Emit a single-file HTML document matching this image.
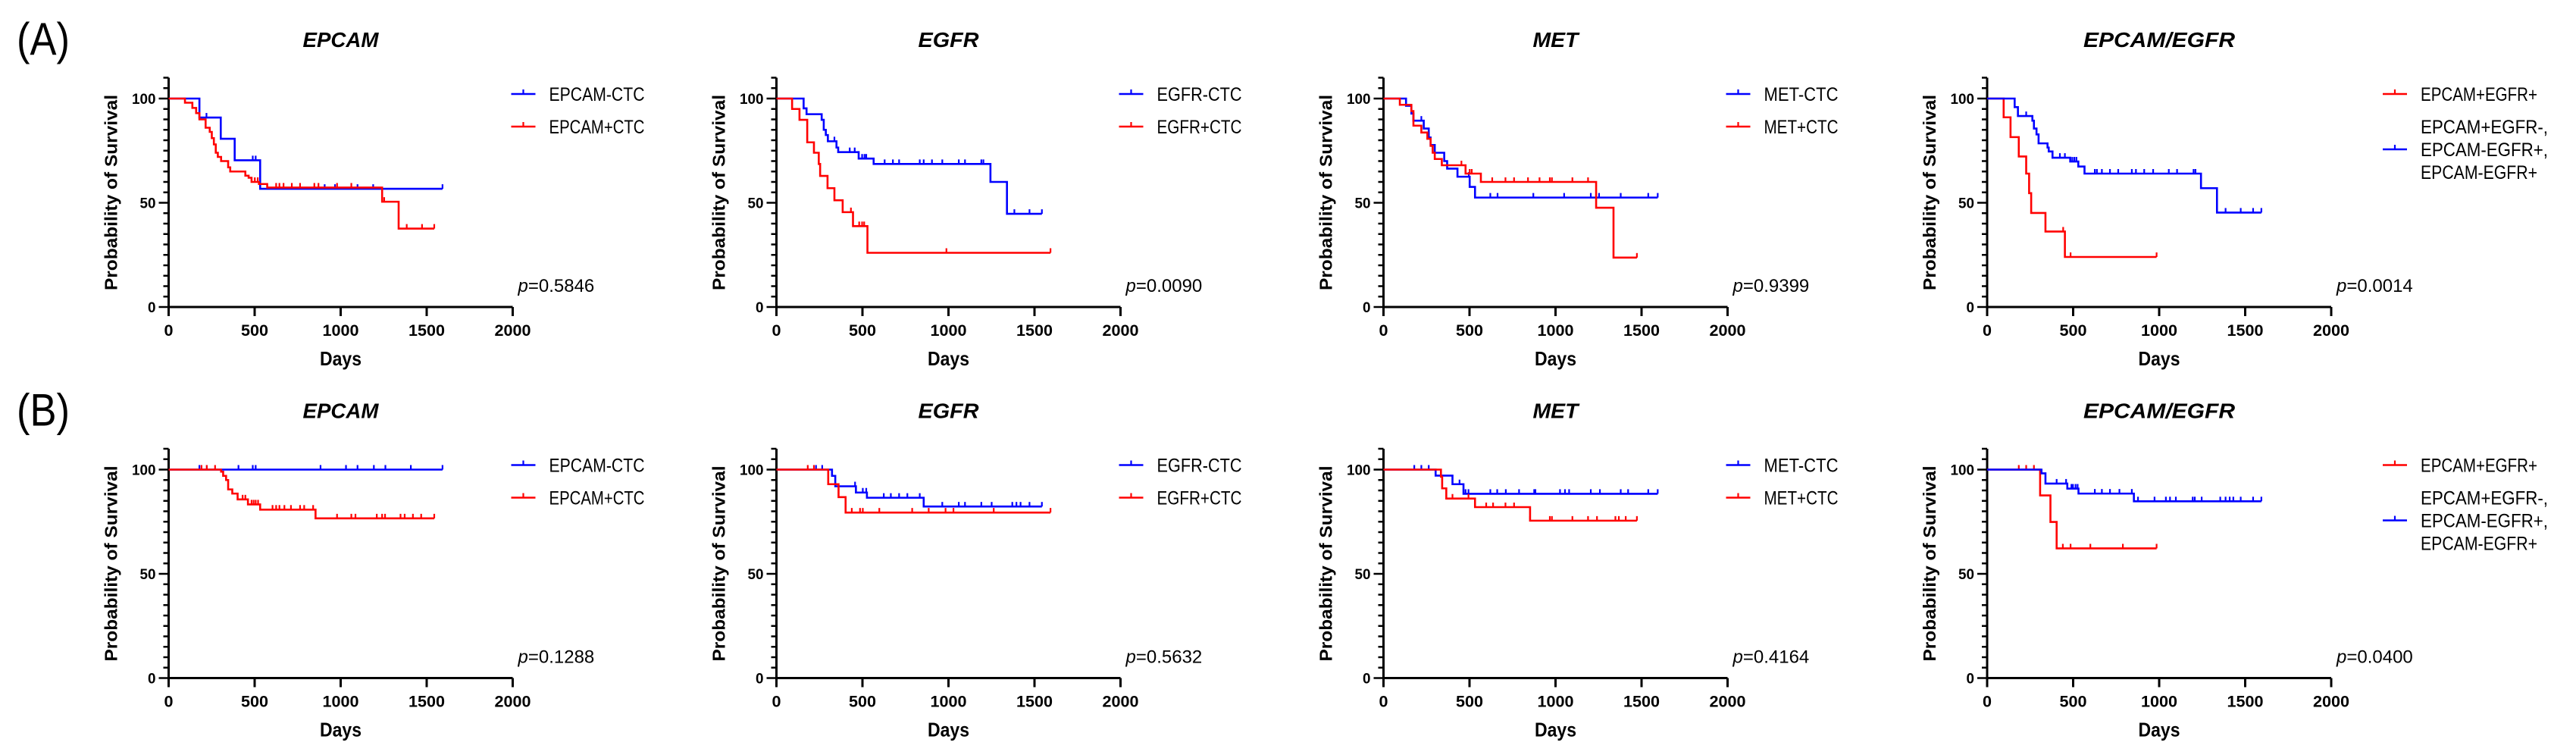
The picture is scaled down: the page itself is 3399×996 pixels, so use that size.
<!DOCTYPE html>
<html><head><meta charset="utf-8"><style>
html,body{margin:0;padding:0;background:#fff;}
svg{display:block;}
text{font-family:"Liberation Sans",Arial,sans-serif;fill:#000;}
</style></head><body>
<svg id="fig" width="3399" height="996" viewBox="0 0 3399 996" xmlns="http://www.w3.org/2000/svg"></svg>
<script>
// ---------- data (days / percent survival) ----------
const yTicks = [0, 50, 100];
const xTicks = [0, 500, 1000, 1500, 2000];
const rowLabels = ["(A)", "(B)"];
const panelTitles = ["EPCAM", "EGFR", "MET", "EPCAM/EGFR"];
const pValuesA = ["0.5846", "0.0090", "0.9399", "0.0014"];
const pValuesB = ["0.1288", "0.5632", "0.4164", "0.0400"];
const legendNeg = ["EPCAM-CTC", "EGFR-CTC", "MET-CTC", "EPCAM+EGFR-, EPCAM-EGFR+, EPCAM-EGFR+"];
const legendPos = ["EPCAM+CTC", "EGFR+CTC", "MET+CTC", "EPCAM+EGFR+"];

// A1 EPCAM
const a1NegDays = [179, 303, 384, 532];
const a1NegLevels = [90.9, 80.7, 70.4, 56.7];
const a1NegCensor = [220, 489, 506, 907, 967, 1098, 1189, 1592];
const a1PosDays = [95, 138, 160, 179, 215, 239, 251, 263, 274, 286, 305, 346, 358, 446, 465, 482, 525, 573, 1241, 1337];
const a1PosLevels = [98, 95.5, 93, 90, 86, 84, 81, 78, 74, 72, 70, 67, 65, 63, 62, 60, 59, 57.3, 50.5, 37.6];
const a1PosCensor = [446, 501, 518, 625, 644, 668, 716, 764, 847, 871, 979, 1062, 1253, 1384, 1473, 1544];
// A2 EGFR
const a2NegDays = [158, 175, 263, 275, 287, 299, 349, 359, 478, 565, 1244, 1340];
const a2NegLevels = [95.3, 92.5, 89.8, 85, 82.5, 79.5, 76.5, 74.3, 71.2, 68.6, 60, 44.7];
const a2NegCensor = [337, 426, 455, 498, 512, 522, 629, 677, 713, 833, 856, 904, 964, 1060, 1096, 1191, 1203, 1383, 1471, 1543];
const a2PosDays = [91, 134, 179, 218, 246, 254, 297, 337, 385, 445, 529];
const a2PosLevels = [95, 89.8, 79, 74, 68.6, 62.9, 57, 51.2, 45.5, 38.8, 26];
const a2PosCensor = [433, 481, 498, 510, 988, 1593];
// A3 MET
const a3NegDays = [131, 162, 174, 234, 263, 274, 298, 353, 370, 430, 501, 532];
const a3NegLevels = [96.5, 92.8, 89.4, 85.6, 81.3, 77.7, 74, 70, 66.4, 62.5, 57.6, 52.5];
const a3NegCensor = [220, 430, 496, 621, 663, 871, 1050, 1205, 1253, 1379, 1539, 1594];
const a3PosDays = [95, 162, 174, 220, 255, 274, 286, 298, 339, 477, 566, 1236, 1337];
const a3PosLevels = [97, 94, 87, 83.7, 80.7, 77.3, 74, 71, 68, 64, 60, 47.6, 23.7];
const a3PosCensor = [453, 501, 513, 632, 709, 759, 840, 907, 967, 979, 1098, 1189, 1473];
// A4 EPCAM/EGFR
const a4NegDays = [160, 179, 263, 272, 287, 299, 351, 358, 380, 483, 530, 566, 1243, 1336];
const a4NegLevels = [95.9, 91.6, 89.4, 85.6, 82.8, 78.5, 76.5, 74.6, 71.6, 69.8, 67.4, 64, 57, 45.3];
const a4NegCensor = [227, 423, 452, 495, 507, 519, 626, 638, 667, 714, 762, 841, 865, 913, 965, 1056, 1104, 1200, 1211, 1386, 1474, 1546, 1594];
const a4PosDays = [96, 136, 184, 227, 244, 256, 339, 452];
const a4PosLevels = [91, 81.5, 72.2, 64, 54.6, 45.1, 36.2, 24];
const a4PosCensor = [442, 485, 985];
// B1 EPCAM
const b1NegDays = [];
const b1NegLevels = [];
const b1NegCensor = [179, 222, 406, 489, 506, 883, 1031, 1098, 1193, 1260, 1408, 1592];
const b1PosDays = [305, 317, 334, 346, 370, 401, 461, 532, 854];
const b1PosLevels = [99, 97, 95, 90.5, 88.5, 85.7, 83.3, 80.8, 76.6];
const b1PosCensor = [191, 222, 270, 430, 446, 482, 494, 506, 520, 604, 625, 644, 673, 711, 764, 788, 840, 979, 1062, 1086, 1210, 1241, 1258, 1348, 1372, 1420, 1468, 1544];
// B2 EGFR
const b2NegDays = [323, 342, 462, 526, 856];
const b2NegLevels = [97, 92, 89, 86.5, 82.3];
const b2NegCensor = [230, 266, 457, 502, 522, 624, 665, 713, 761, 833, 964, 1060, 1096, 1191, 1251, 1371, 1395, 1419, 1471, 1543];
const b2PosDays = [301, 361, 402];
const b2PosLevels = [93, 86.8, 79.4];
const b2PosCensor = [182, 218, 438, 486, 502, 598, 789, 885, 983, 1029, 1263, 1593];
// B3 MET
const b3NegDays = [303, 401, 465];
const b3NegLevels = [97.1, 93, 88.4];
const b3NegCensor = [179, 220, 263, 442, 477, 494, 621, 661, 711, 788, 876, 883, 1026, 1055, 1079, 1205, 1258, 1379, 1422, 1539, 1594];
const b3PosDays = [334, 341, 365, 532, 852];
const b3PosLevels = [96.6, 91, 86.1, 82, 75.5];
const b3PosCensor = [401, 494, 597, 637, 709, 759, 852, 967, 979, 1098, 1189, 1241, 1348, 1368, 1408, 1473];
// B4 EPCAM/EGFR
const b4NegDays = [316, 339, 466, 531, 853];
const b4NegLevels = [98.2, 93.3, 90.9, 88.5, 84.8];
const b4NegCensor = [404, 459, 490, 499, 514, 526, 626, 667, 714, 769, 841, 877, 973, 1039, 1063, 1097, 1195, 1207, 1247, 1355, 1386, 1410, 1431, 1474, 1546, 1594];
const b4PosDays = [308, 368, 404];
const b4PosLevels = [87.6, 74.9, 62.2];
const b4PosCensor = [184, 227, 272, 440, 485, 600, 789, 985];

// ---------- layout ----------
const NS = "http://www.w3.org/2000/svg";
const svg = document.getElementById("fig");
const colX0 = [222.5, 1024.5, 1825.5, 2622];
const plotW = 454;
const rowY0 = [405, 894.5];
const plotH = 275; // 0..100
const BLUE = "#0000ff", RED = "#ff0000";

function el(tag, attrs, parent) {
  const e = document.createElementNS(NS, tag);
  for (const k in attrs) e.setAttribute(k, attrs[k]);
  (parent || svg).appendChild(e);
  return e;
}
function txt(str, attrs, parent) {
  const t = el("text", attrs, parent);
  t.textContent = str;
  return t;
}

const panels = [
  [[a1NegDays,a1NegLevels,a1NegCensor],[a1PosDays,a1PosLevels,a1PosCensor]],
  [[a2NegDays,a2NegLevels,a2NegCensor],[a2PosDays,a2PosLevels,a2PosCensor]],
  [[a3NegDays,a3NegLevels,a3NegCensor],[a3PosDays,a3PosLevels,a3PosCensor]],
  [[a4NegDays,a4NegLevels,a4NegCensor],[a4PosDays,a4PosLevels,a4PosCensor]],
  [[b1NegDays,b1NegLevels,b1NegCensor],[b1PosDays,b1PosLevels,b1PosCensor]],
  [[b2NegDays,b2NegLevels,b2NegCensor],[b2PosDays,b2PosLevels,b2PosCensor]],
  [[b3NegDays,b3NegLevels,b3NegCensor],[b3PosDays,b3PosLevels,b3PosCensor]],
  [[b4NegDays,b4NegLevels,b4NegCensor],[b4PosDays,b4PosLevels,b4PosCensor]]
];

function levelAt(days, levels, t) {
  let v = 100;
  for (let i = 0; i < days.length; i++) if (days[i] <= t) v = levels[i];
  return v;
}

function drawSeries(g, sx, sy, days, levels, censor, color, name) {
  const end = Math.max(censor.length ? censor[censor.length-1] : 0, days.length ? days[days.length-1] : 0);
  let d = "M" + sx(0) + "," + sy(100);
  let cur = 100;
  for (let i = 0; i < days.length; i++) {
    d += " H" + sx(days[i]) + " V" + sy(levels[i]);
    cur = levels[i];
  }
  d += " H" + sx(end);
  const p = el("path", {d: d, fill: "none", stroke: color, "stroke-width": 2.6, "stroke-linejoin": "miter"}, g);
  
  
  censor.forEach(function (c) {
    const v = levelAt(days, levels, c);
    const m = el("line", {x1: sx(c), x2: sx(c), y1: sy(v), y2: sy(v) - 6, stroke: color, "stroke-width": 2.2}, g);
    
    
  });
}

for (let r = 0; r < 2; r++) {
  const y0 = rowY0[r];
  const rl = txt(rowLabels[r], {x: 22, y: y0 - 333 + (r ? 0 : 0), "font-size": 60, textLength: 70, lengthAdjust: "spacingAndGlyphs"});
  
  
  for (let c = 0; c < 4; c++) {
    const x0 = colX0[c];
    const sx = function (v) { return x0 + v / 2000 * plotW; };
    const sy = function (v) { return y0 - v / 100 * plotH; };
    const g = el("g", {});
    
    

    // title
    const t = txt(panelTitles[c], {x: x0 + plotW / 2, y: y0 - 343, "font-size": 28, "font-weight": "bold", "font-style": "italic", "text-anchor": "middle", textLength: panelTitles[c].length * 20, lengthAdjust: "spacingAndGlyphs"}, g);
    
    

    // axes
    const ax = el("path", {d: "M" + x0 + "," + sy(110) + " V" + y0 + " H" + sx(2000), fill: "none", stroke: "#000", "stroke-width": 3}, g);
    
    
    for (let v = 0; v <= 110; v += 5) {
      const major = yTicks.indexOf(v) >= 0;
      const tk = el("line", {x1: x0, x2: x0 - (major ? 13 : 7), y1: sy(v), y2: sy(v), stroke: "#000", "stroke-width": 2.5}, g);
      
      
    }
    yTicks.forEach(function (v) {
      const l = txt(String(v), {x: x0 - 17, y: sy(v) + 7, "font-size": 19, "font-weight": "bold", "text-anchor": "end", textLength: String(v).length * 10.5, lengthAdjust: "spacingAndGlyphs"}, g);
      
      
    });
    xTicks.forEach(function (v) {
      const tk = el("line", {x1: sx(v), x2: sx(v), y1: y0, y2: y0 + 12, stroke: "#000", "stroke-width": 3}, g);
      
      
      const l = txt(String(v), {x: sx(v), y: y0 + 38, "font-size": 21, "font-weight": "bold", "text-anchor": "middle", textLength: String(v).length * 12, lengthAdjust: "spacingAndGlyphs"}, g);
      
      
    });
    const xt = txt("Days", {x: x0 + plotW / 2, y: y0 + 77, "font-size": 26, "font-weight": "bold", "text-anchor": "middle", textLength: 55, lengthAdjust: "spacingAndGlyphs"}, g);
    
    
    const ycx = x0 - 76, ycy = y0 - 151;
    const yt = txt("Probability of Survival", {x: ycx, y: ycy, "font-size": 23, "font-weight": "bold", "text-anchor": "middle", "dominant-baseline": "central", textLength: 258, lengthAdjust: "spacingAndGlyphs", transform: "rotate(-90 " + ycx + " " + ycy + ")"}, g);
    
    

    // p value
    const pv = txt("", {x: sx(2000) + 7, y: y0 - 20, "font-size": 24}, g);
    
    
    const pi = el("tspan", {"font-style": "italic"}, pv); pi.textContent = "p";
    const pr = el("tspan", {}, pv); pr.textContent = "=" + (r ? pValuesB[c] : pValuesA[c]);

    // series
    const data = panels[r * 4 + c];
    if (c === 3) {
      drawSeries(g, sx, sy, data[1][0], data[1][1], data[1][2], RED, 'positive');
      drawSeries(g, sx, sy, data[0][0], data[0][1], data[0][2], BLUE, 'negative');
    } else {
      drawSeries(g, sx, sy, data[0][0], data[0][1], data[0][2], BLUE, 'negative');
      drawSeries(g, sx, sy, data[1][0], data[1][1], data[1][2], RED, 'positive');
    }

    // legend
    const lx = sx(2000) - 2 + (c === 3 ? 70 : 0);
    const ly1 = y0 - 281, ly2 = y0 - 238;
    function legendItem(yy, color, label, name) {
      const lg = el("g", {}, g);
      
      
      el("line", {x1: lx, x2: lx + 32, y1: yy, y2: yy, stroke: color, "stroke-width": 2.6}, lg);
      el("line", {x1: lx + 16, x2: lx + 16, y1: yy, y2: yy - 6, stroke: color, "stroke-width": 2.2}, lg);
      const lines = label.split(", ");
      const off = (lines.length - 1) * 30 / 2;
      lines.forEach(function (s, i) {
        const str = i < lines.length - 1 ? s + "," : s;
        txt(str, {x: lx + 50, y: yy + 9 - off + i * 30, "font-size": 25, textLength: str.length * 14, lengthAdjust: "spacingAndGlyphs"}, lg);
      });
    }
    if (c === 3) {
      legendItem(ly1, RED, legendPos[c], 'legend-entry-positive');
      legendItem(ly2 + 30, BLUE, legendNeg[c], 'legend-entry-negative');
    } else {
      legendItem(ly1, BLUE, legendNeg[c], 'legend-entry-negative');
      legendItem(ly2, RED, legendPos[c], 'legend-entry-positive');
    }
  }
}
</script>
</body></html>
